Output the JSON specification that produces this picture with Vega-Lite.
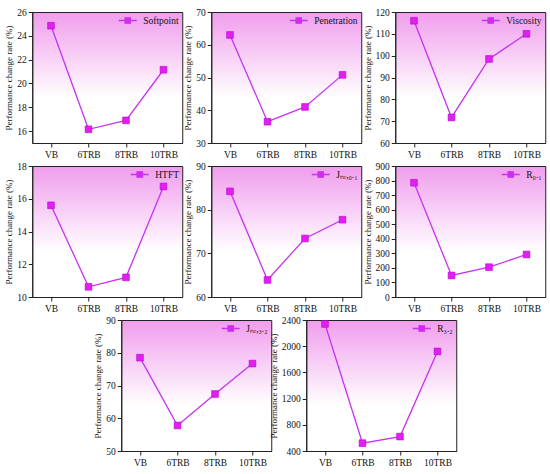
{
  "$schema": "https://vega.github.io/schema/vega-lite/v6.json",
  "padding": {"left": 4, "top": 6, "right": 4, "bottom": 2},
  "background": "white",
  "datasets": {
    "d": [
      {"prop": "Softpoint", "group": "VB", "value": 24.85},
      {"prop": "Softpoint", "group": "6TRB", "value": 16.15},
      {"prop": "Softpoint", "group": "8TRB", "value": 16.9},
      {"prop": "Softpoint", "group": "10TRB", "value": 21.15},
      {"prop": "Penetration", "group": "VB", "value": 63.0},
      {"prop": "Penetration", "group": "6TRB", "value": 36.5},
      {"prop": "Penetration", "group": "8TRB", "value": 41.0},
      {"prop": "Penetration", "group": "10TRB", "value": 50.8},
      {"prop": "Viscosity", "group": "VB", "value": 116.0},
      {"prop": "Viscosity", "group": "6TRB", "value": 71.7},
      {"prop": "Viscosity", "group": "8TRB", "value": 98.5},
      {"prop": "Viscosity", "group": "10TRB", "value": 110.0},
      {"prop": "HTFT", "group": "VB", "value": 15.6},
      {"prop": "HTFT", "group": "6TRB", "value": 10.62},
      {"prop": "HTFT", "group": "8TRB", "value": 11.2},
      {"prop": "HTFT", "group": "10TRB", "value": 16.75},
      {"prop": "Jₙᵣ,₀.₁", "group": "VB", "value": 84.2},
      {"prop": "Jₙᵣ,₀.₁", "group": "6TRB", "value": 63.9},
      {"prop": "Jₙᵣ,₀.₁", "group": "8TRB", "value": 73.4},
      {"prop": "Jₙᵣ,₀.₁", "group": "10TRB", "value": 77.7},
      {"prop": "R₀.₁", "group": "VB", "value": 785},
      {"prop": "R₀.₁", "group": "6TRB", "value": 148},
      {"prop": "R₀.₁", "group": "8TRB", "value": 205},
      {"prop": "R₀.₁", "group": "10TRB", "value": 292},
      {"prop": "Jₙᵣ,₃.₂", "group": "VB", "value": 78.5},
      {"prop": "Jₙᵣ,₃.₂", "group": "6TRB", "value": 57.8},
      {"prop": "Jₙᵣ,₃.₂", "group": "8TRB", "value": 67.4},
      {"prop": "Jₙᵣ,₃.₂", "group": "10TRB", "value": 76.7},
      {"prop": "R₃.₂", "group": "VB", "value": 2340},
      {"prop": "R₃.₂", "group": "6TRB", "value": 520},
      {"prop": "R₃.₂", "group": "8TRB", "value": 620},
      {"prop": "R₃.₂", "group": "10TRB", "value": 1920}
    ]
  },
  "data": {"name": "d"},
  "spacing": 1,
  "center": true,
  "resolve": {"scale": {"color": "independent"}, "legend": {"color": "independent"}},
  "vconcat": [
    {
      "spacing": 0,
      "resolve": {"scale": {"color": "independent"}, "legend": {"color": "independent"}},
      "hconcat": [
        {
          "width": 150, "height": 131,
          "transform": [{"filter": "datum.prop === 'Softpoint'"}],
          "encoding": {
            "x": {"field": "group", "type": "ordinal", "sort": ["VB", "6TRB", "8TRB", "10TRB"], "scale": {"type": "point", "padding": 0.5}, "axis": {"title": null, "labelAngle": 0}},
            "y": {"field": "value", "type": "quantitative", "scale": {"domain": [15, 26], "nice": false, "zero": false}, "axis": {"values": [16, 18, 20, 22, 24, 26], "title": "Performance change rate (%)"}},
            "color": {"field": "prop", "type": "nominal", "scale": {"range": ["#c832f0"]}, "legend": {"title": null, "orient": "top-right"}}
          },
          "layer": [
            {"mark": {"type": "line", "strokeWidth": 1.3}},
            {"mark": {"type": "square", "size": 45, "opacity": 1, "filled": true, "stroke": "#b400d0", "strokeWidth": 0.6}, "encoding": {"color": {"value": "#e21ff0"}}}
          ]
        },
        {
          "width": 150, "height": 131,
          "transform": [{"filter": "datum.prop === 'Penetration'"}],
          "encoding": {
            "x": {"field": "group", "type": "ordinal", "sort": ["VB", "6TRB", "8TRB", "10TRB"], "scale": {"type": "point", "padding": 0.5}, "axis": {"title": null, "labelAngle": 0}},
            "y": {"field": "value", "type": "quantitative", "scale": {"domain": [30, 70], "nice": false, "zero": false}, "axis": {"values": [30, 40, 50, 60, 70], "title": "Performance change rate (%)"}},
            "color": {"field": "prop", "type": "nominal", "scale": {"range": ["#c832f0"]}, "legend": {"title": null, "orient": "top-right"}}
          },
          "layer": [
            {"mark": {"type": "line", "strokeWidth": 1.3}},
            {"mark": {"type": "square", "size": 45, "opacity": 1, "filled": true, "stroke": "#b400d0", "strokeWidth": 0.6}, "encoding": {"color": {"value": "#e21ff0"}}}
          ]
        },
        {
          "width": 150, "height": 131,
          "transform": [{"filter": "datum.prop === 'Viscosity'"}],
          "encoding": {
            "x": {"field": "group", "type": "ordinal", "sort": ["VB", "6TRB", "8TRB", "10TRB"], "scale": {"type": "point", "padding": 0.5}, "axis": {"title": null, "labelAngle": 0}},
            "y": {"field": "value", "type": "quantitative", "scale": {"domain": [60, 120], "nice": false, "zero": false}, "axis": {"values": [60, 70, 80, 90, 100, 110, 120], "title": "Performance change rate (%)"}},
            "color": {"field": "prop", "type": "nominal", "scale": {"range": ["#c832f0"]}, "legend": {"title": null, "orient": "top-right"}}
          },
          "layer": [
            {"mark": {"type": "line", "strokeWidth": 1.3}},
            {"mark": {"type": "square", "size": 45, "opacity": 1, "filled": true, "stroke": "#b400d0", "strokeWidth": 0.6}, "encoding": {"color": {"value": "#e21ff0"}}}
          ]
        }
      ]
    },
    {
      "spacing": 0,
      "resolve": {"scale": {"color": "independent"}, "legend": {"color": "independent"}},
      "hconcat": [
        {
          "width": 150, "height": 131,
          "transform": [{"filter": "datum.prop === 'HTFT'"}],
          "encoding": {
            "x": {"field": "group", "type": "ordinal", "sort": ["VB", "6TRB", "8TRB", "10TRB"], "scale": {"type": "point", "padding": 0.5}, "axis": {"title": null, "labelAngle": 0}},
            "y": {"field": "value", "type": "quantitative", "scale": {"domain": [10, 18], "nice": false, "zero": false}, "axis": {"values": [10, 12, 14, 16, 18], "title": "Performance change rate (%)"}},
            "color": {"field": "prop", "type": "nominal", "scale": {"range": ["#c832f0"]}, "legend": {"title": null, "orient": "top-right"}}
          },
          "layer": [
            {"mark": {"type": "line", "strokeWidth": 1.3}},
            {"mark": {"type": "square", "size": 45, "opacity": 1, "filled": true, "stroke": "#b400d0", "strokeWidth": 0.6}, "encoding": {"color": {"value": "#e21ff0"}}}
          ]
        },
        {
          "width": 150, "height": 131,
          "transform": [{"filter": "datum.prop === 'Jₙᵣ,₀.₁'"}],
          "encoding": {
            "x": {"field": "group", "type": "ordinal", "sort": ["VB", "6TRB", "8TRB", "10TRB"], "scale": {"type": "point", "padding": 0.5}, "axis": {"title": null, "labelAngle": 0}},
            "y": {"field": "value", "type": "quantitative", "scale": {"domain": [60, 90], "nice": false, "zero": false}, "axis": {"values": [60, 70, 80, 90], "title": "Performance change rate (%)"}},
            "color": {"field": "prop", "type": "nominal", "scale": {"range": ["#c832f0"]}, "legend": {"title": null, "orient": "top-right"}}
          },
          "layer": [
            {"mark": {"type": "line", "strokeWidth": 1.3}},
            {"mark": {"type": "square", "size": 45, "opacity": 1, "filled": true, "stroke": "#b400d0", "strokeWidth": 0.6}, "encoding": {"color": {"value": "#e21ff0"}}}
          ]
        },
        {
          "width": 150, "height": 131,
          "transform": [{"filter": "datum.prop === 'R₀.₁'"}],
          "encoding": {
            "x": {"field": "group", "type": "ordinal", "sort": ["VB", "6TRB", "8TRB", "10TRB"], "scale": {"type": "point", "padding": 0.5}, "axis": {"title": null, "labelAngle": 0}},
            "y": {"field": "value", "type": "quantitative", "scale": {"domain": [0, 900], "nice": false}, "axis": {"values": [0, 100, 200, 300, 400, 500, 600, 700, 800, 900], "format": "d", "title": "Performance change rate (%)"}},
            "color": {"field": "prop", "type": "nominal", "scale": {"range": ["#c832f0"]}, "legend": {"title": null, "orient": "top-right"}}
          },
          "layer": [
            {"mark": {"type": "line", "strokeWidth": 1.3}},
            {"mark": {"type": "square", "size": 45, "opacity": 1, "filled": true, "stroke": "#b400d0", "strokeWidth": 0.6}, "encoding": {"color": {"value": "#e21ff0"}}}
          ]
        }
      ]
    },
    {
      "spacing": -4,
      "resolve": {"scale": {"color": "independent"}, "legend": {"color": "independent"}},
      "hconcat": [
        {
          "width": 150, "height": 131,
          "transform": [{"filter": "datum.prop === 'Jₙᵣ,₃.₂'"}],
          "encoding": {
            "x": {"field": "group", "type": "ordinal", "sort": ["VB", "6TRB", "8TRB", "10TRB"], "scale": {"type": "point", "padding": 0.5}, "axis": {"title": null, "labelAngle": 0}},
            "y": {"field": "value", "type": "quantitative", "scale": {"domain": [50, 90], "nice": false, "zero": false}, "axis": {"values": [50, 60, 70, 80, 90], "title": "Performance change rate (%)"}},
            "color": {"field": "prop", "type": "nominal", "scale": {"range": ["#c832f0"]}, "legend": {"title": null, "orient": "top-right"}}
          },
          "layer": [
            {"mark": {"type": "line", "strokeWidth": 1.3}},
            {"mark": {"type": "square", "size": 45, "opacity": 1, "filled": true, "stroke": "#b400d0", "strokeWidth": 0.6}, "encoding": {"color": {"value": "#e21ff0"}}}
          ]
        },
        {
          "width": 150, "height": 131,
          "transform": [{"filter": "datum.prop === 'R₃.₂'"}],
          "encoding": {
            "x": {"field": "group", "type": "ordinal", "sort": ["VB", "6TRB", "8TRB", "10TRB"], "scale": {"type": "point", "padding": 0.5}, "axis": {"title": null, "labelAngle": 0}},
            "y": {"field": "value", "type": "quantitative", "scale": {"domain": [400, 2400], "nice": false, "zero": false}, "axis": {"values": [400, 800, 1200, 1600, 2000, 2400], "format": "d", "title": "Performance change rate (%)"}},
            "color": {"field": "prop", "type": "nominal", "scale": {"range": ["#c832f0"]}, "legend": {"title": null, "orient": "top-right"}}
          },
          "layer": [
            {"mark": {"type": "line", "strokeWidth": 1.3}},
            {"mark": {"type": "square", "size": 45, "opacity": 1, "filled": true, "stroke": "#b400d0", "strokeWidth": 0.6}, "encoding": {"color": {"value": "#e21ff0"}}}
          ]
        }
      ]
    }
  ],
  "config": {
    "font": "Liberation Serif",
    "view": {
      "stroke": "#222222",
      "strokeWidth": 1,
      "fill": {"gradient": "linear", "x1": 0, "y1": 0, "x2": 0, "y2": 1, "stops": [{"offset": 0, "color": "#f09ded"}, {"offset": 0.65, "color": "#ffffff"}, {"offset": 1, "color": "#ffffff"}]}
    },
    "axis": {
      "grid": false,
      "domain": true,
      "domainColor": "#222222",
      "tickColor": "#222222",
      "tickSize": 4,
      "labelFont": "Liberation Serif",
      "labelFontSize": 9.5,
      "labelColor": "#111111",
      "labelPadding": 2,
      "titleFont": "Liberation Serif",
      "titleFontSize": 9,
      "titleFontWeight": "normal",
      "titleColor": "#111111",
      "titlePadding": 3
    },
    "legend": {
      "labelFont": "Liberation Serif",
      "labelFontSize": 9.5,
      "labelColor": "#111111",
      "symbolType": "M-2,0H2M-0.6,-0.6H0.6V0.6H-0.6Z",
      "symbolSize": 80,
      "symbolFillColor": "#e21ff0",
      "symbolStrokeColor": "#c832f0",
      "symbolStrokeWidth": 1.3,
      "labelOffset": 10,
      "padding": 1,
      "offset": 2
    }
  }
}
